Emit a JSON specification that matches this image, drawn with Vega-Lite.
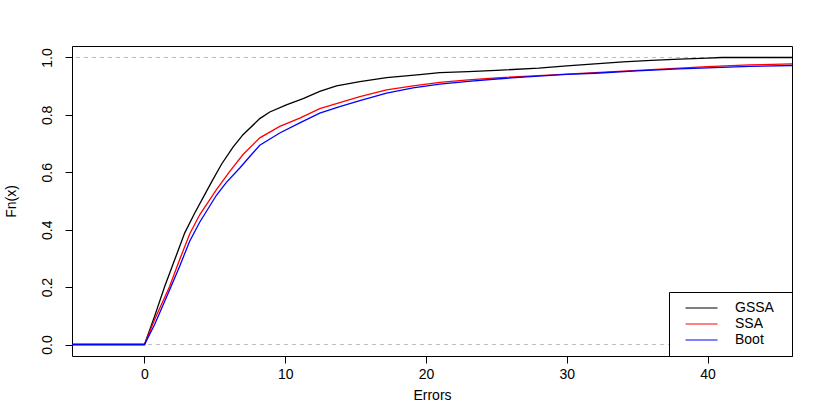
{
  "$schema": "https://vega.github.io/schema/vega-lite/v6.json",
  "width": 720,
  "height": 310,
  "autosize": "none",
  "padding": {"left": 72, "top": 46, "right": 38, "bottom": 59},
  "background": "white",
  "config": {
    "font": "Liberation Sans",
    "view": {"stroke": "black", "strokeWidth": 1}
  },
  "layer": [
    {
      "data": {"values": [{"ref": 0}, {"ref": 1}]},
      "mark": {"type": "rule", "color": "#bdbdbd", "strokeDash": [4, 4], "strokeWidth": 1},
      "encoding": {"y": {"field": "ref", "type": "quantitative", "scale": {"domain": [-0.04, 1.04], "nice": false, "zero": false}}}
    },
    {
      "data": {"values": [
        {"method": "GSSA", "x": -6, "F": 0},
        {"method": "GSSA", "x": 0, "F": 0},
        {"method": "GSSA", "x": 0.72, "F": 0.099},
        {"method": "GSSA", "x": 1.44, "F": 0.203},
        {"method": "GSSA", "x": 2.15, "F": 0.296},
        {"method": "GSSA", "x": 2.86, "F": 0.389},
        {"method": "GSSA", "x": 3.57, "F": 0.458},
        {"method": "GSSA", "x": 4.75, "F": 0.565},
        {"method": "GSSA", "x": 5.47, "F": 0.628},
        {"method": "GSSA", "x": 6.29, "F": 0.688},
        {"method": "GSSA", "x": 7.0, "F": 0.731},
        {"method": "GSSA", "x": 8.19, "F": 0.787},
        {"method": "GSSA", "x": 8.9, "F": 0.81},
        {"method": "GSSA", "x": 10.08, "F": 0.835},
        {"method": "GSSA", "x": 11.27, "F": 0.857},
        {"method": "GSSA", "x": 12.45, "F": 0.882},
        {"method": "GSSA", "x": 13.64, "F": 0.901},
        {"method": "GSSA", "x": 15.3, "F": 0.916},
        {"method": "GSSA", "x": 17.2, "F": 0.93},
        {"method": "GSSA", "x": 19.56, "F": 0.94},
        {"method": "GSSA", "x": 20.98, "F": 0.947},
        {"method": "GSSA", "x": 23, "F": 0.951},
        {"method": "GSSA", "x": 25, "F": 0.955},
        {"method": "GSSA", "x": 28, "F": 0.963},
        {"method": "GSSA", "x": 30, "F": 0.971},
        {"method": "GSSA", "x": 32, "F": 0.978},
        {"method": "GSSA", "x": 34, "F": 0.985},
        {"method": "GSSA", "x": 36, "F": 0.99},
        {"method": "GSSA", "x": 38, "F": 0.994},
        {"method": "GSSA", "x": 40, "F": 0.998},
        {"method": "GSSA", "x": 41, "F": 1.0},
        {"method": "GSSA", "x": 47, "F": 1.0},
        {"method": "SSA", "x": -6, "F": 0},
        {"method": "SSA", "x": 0, "F": 0},
        {"method": "SSA", "x": 0.72, "F": 0.087},
        {"method": "SSA", "x": 1.79, "F": 0.203},
        {"method": "SSA", "x": 2.5, "F": 0.296},
        {"method": "SSA", "x": 3.21, "F": 0.385},
        {"method": "SSA", "x": 3.92, "F": 0.452},
        {"method": "SSA", "x": 5.11, "F": 0.54},
        {"method": "SSA", "x": 6.06, "F": 0.603},
        {"method": "SSA", "x": 7.0, "F": 0.662},
        {"method": "SSA", "x": 8.19, "F": 0.72},
        {"method": "SSA", "x": 9.61, "F": 0.76},
        {"method": "SSA", "x": 11.03, "F": 0.789},
        {"method": "SSA", "x": 12.45, "F": 0.822},
        {"method": "SSA", "x": 13.87, "F": 0.843},
        {"method": "SSA", "x": 15.3, "F": 0.864},
        {"method": "SSA", "x": 17.2, "F": 0.887},
        {"method": "SSA", "x": 19.08, "F": 0.901},
        {"method": "SSA", "x": 20.98, "F": 0.913},
        {"method": "SSA", "x": 23, "F": 0.922},
        {"method": "SSA", "x": 25, "F": 0.929},
        {"method": "SSA", "x": 28, "F": 0.937},
        {"method": "SSA", "x": 30, "F": 0.942},
        {"method": "SSA", "x": 32, "F": 0.947},
        {"method": "SSA", "x": 35, "F": 0.955},
        {"method": "SSA", "x": 38, "F": 0.963},
        {"method": "SSA", "x": 40, "F": 0.968},
        {"method": "SSA", "x": 43, "F": 0.974},
        {"method": "SSA", "x": 47, "F": 0.979},
        {"method": "Boot", "x": -6, "F": 0},
        {"method": "Boot", "x": 0, "F": 0},
        {"method": "Boot", "x": 0.72, "F": 0.07},
        {"method": "Boot", "x": 1.79, "F": 0.191},
        {"method": "Boot", "x": 2.5, "F": 0.273},
        {"method": "Boot", "x": 3.21, "F": 0.36},
        {"method": "Boot", "x": 3.92, "F": 0.426},
        {"method": "Boot", "x": 5.11, "F": 0.52},
        {"method": "Boot", "x": 5.82, "F": 0.565},
        {"method": "Boot", "x": 6.77, "F": 0.615},
        {"method": "Boot", "x": 7.48, "F": 0.655},
        {"method": "Boot", "x": 8.19, "F": 0.694},
        {"method": "Boot", "x": 9.61, "F": 0.737},
        {"method": "Boot", "x": 11.03, "F": 0.772},
        {"method": "Boot", "x": 12.45, "F": 0.806},
        {"method": "Boot", "x": 13.87, "F": 0.829},
        {"method": "Boot", "x": 15.3, "F": 0.85},
        {"method": "Boot", "x": 17.2, "F": 0.876},
        {"method": "Boot", "x": 19.08, "F": 0.894},
        {"method": "Boot", "x": 20.98, "F": 0.907},
        {"method": "Boot", "x": 23, "F": 0.917},
        {"method": "Boot", "x": 25, "F": 0.925},
        {"method": "Boot", "x": 28, "F": 0.935},
        {"method": "Boot", "x": 30, "F": 0.941},
        {"method": "Boot", "x": 32, "F": 0.945},
        {"method": "Boot", "x": 35, "F": 0.953},
        {"method": "Boot", "x": 38, "F": 0.96},
        {"method": "Boot", "x": 40, "F": 0.964},
        {"method": "Boot", "x": 43, "F": 0.969},
        {"method": "Boot", "x": 47, "F": 0.973}
      ]},
      "mark": {"type": "line", "clip": true, "strokeWidth": 1.3},
      "encoding": {
        "x": {
          "field": "x", "type": "quantitative",
          "scale": {"domain": [-5.15, 46.0], "nice": false, "zero": false},
          "axis": {
            "title": "Errors", "values": [0, 10, 20, 30, 40], "grid": false, "domain": false,
            "tickColor": "black", "tickSize": 7, "labelFontSize": 14, "labelColor": "black",
            "labelPadding": 4, "titleFontSize": 14, "titleFontWeight": "normal", "titleColor": "black",
            "titlePadding": 7
          }
        },
        "y": {
          "field": "F", "type": "quantitative",
          "scale": {"domain": [-0.04, 1.04], "nice": false, "zero": false},
          "axis": {
            "title": "Fn(x)", "values": [0, 0.2, 0.4, 0.6, 0.8, 1.0], "format": ".1f", "grid": false, "domain": false,
            "tickColor": "black", "tickSize": 7, "labelFontSize": 14, "labelColor": "black",
            "labelAngle": 270, "labelAlign": "center", "labelBaseline": "bottom", "labelPadding": 11,
            "titleFontSize": 14, "titleFontWeight": "normal", "titleColor": "black", "titlePadding": 22
          }
        },
        "color": {
          "field": "method", "type": "nominal",
          "scale": {"domain": ["GSSA", "SSA", "Boot"], "range": ["black", "red", "blue"]},
          "legend": {
            "title": " ", "titleOrient": "right", "titlePadding": 10, "titleFontSize": 13,
            "orient": "bottom-right", "offset": 0,
            "strokeColor": "black", "fillColor": "white", "padding": 8,
            "symbolType": "stroke", "symbolSize": 1024, "symbolStrokeWidth": 1, "symbolOffset": 8,
            "clipHeight": 16, "rowPadding": 0, "labelOffset": 17, "labelFontSize": 14, "labelColor": "black"
          }
        }
      }
    }
  ]
}
